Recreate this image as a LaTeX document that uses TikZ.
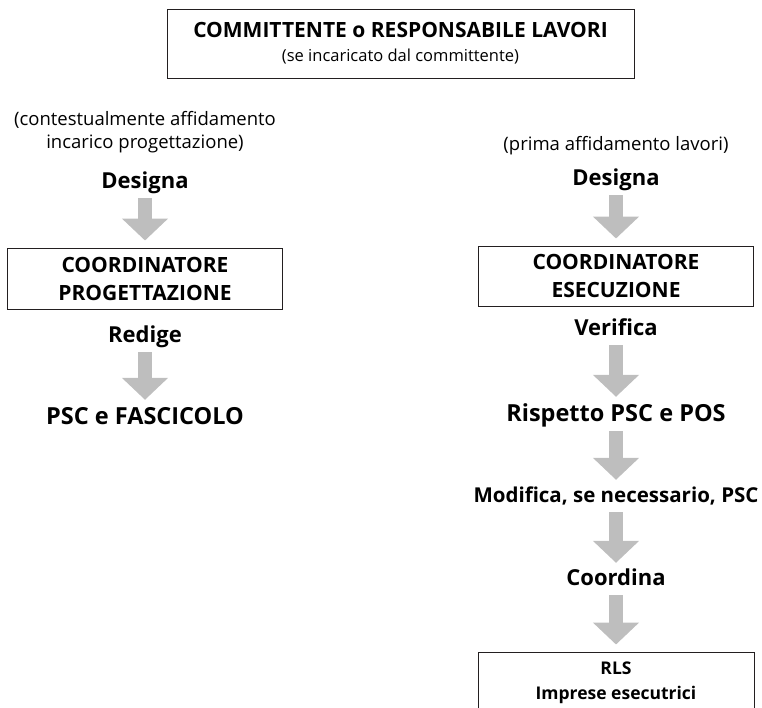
\documentclass[tikz,border=0pt]{standalone}
\usepackage{fontspec}
\setmainfont{Open Sans}
\usetikzlibrary{arrows.meta}
\definecolor{grigiofreccia}{RGB}{190,190,190}
\definecolor{bordo}{RGB}{35,31,32}
\begin{document}
\begin{tikzpicture}[x=1pt, y=-1pt,
  riquadro/.style={draw=bordo, line width=1pt, align=center, inner sep=0pt, font=\bfseries\fontsize{21}{28}\selectfont},
  voce/.style={font=\bfseries\fontsize{22}{26}\selectfont, inner sep=0pt, text height=15pt, text depth=5pt, anchor=base},
  grande/.style={font=\bfseries\fontsize{23.5}{27}\selectfont, text height=17pt},
  nota/.style={font=\fontsize{18.5}{23}\selectfont, align=center, inner sep=0pt},
  freccia/.style={draw=grigiofreccia, line width=14pt, -{Triangle[length=22pt, width=45pt]}, shorten <=5pt, shorten >=7pt}]
\useasboundingbox (0,0) rectangle (762,707);
\node[riquadro, minimum width=467, minimum height=69, font=\bfseries\fontsize{21}{24}\selectfont] (comm) at (400.5,43.5) {COMMITTENTE o RESPONSABILE LAVORI\\{\mdseries\fontsize{16.5}{24}\selectfont(se incaricato dal committente)}};
\node[nota] (notaL) at (145,132.5) {(contestualmente affidamento\\incarico progettazione)};
\node[voce] (desL) at (145,188) {Designa};
\node[riquadro, minimum width=275, minimum height=61] (coordP) at (145,278.5) {COORDINATORE\\PROGETTAZIONE};
\draw[freccia] (desL) -- (coordP);
\node[voce] (redige) at (145,342) {Redige};
\node[voce, grande] (fascicolo) at (145,424) {PSC e FASCICOLO};
\draw[freccia] (redige) -- (fascicolo);
\node[nota] (notaR) at (616,146) {(prima affidamento lavori)};
\node[voce] (desR) at (616,185) {Designa};
\node[riquadro, minimum width=275, minimum height=60] (coordE) at (616,276) {COORDINATORE\\ESECUZIONE};
\draw[freccia] (desR) -- (coordE);
\node[voce] (verifica) at (616,335) {Verifica};
\node[voce, grande] (rispetto) at (616,421) {Rispetto PSC e POS};
\draw[freccia] (verifica) -- (rispetto);
\node[voce, font=\bfseries\fontsize{20.5}{25}\selectfont] (modifica) at (616,502) {Modifica, se necessario, PSC};
\draw[freccia] (rispetto) -- (modifica);
\node[voce] (coordina) at (616,585) {Coordina};
\draw[freccia] (modifica) -- (coordina);
\node[riquadro, minimum width=276, minimum height=83, font=\bfseries\fontsize{17.5}{25}\selectfont] (rls) at (616,693.5) {RLS\\Imprese esecutrici\\\mbox{}};
\draw[freccia] (coordina) -- (rls);
\end{tikzpicture}
\end{document}
